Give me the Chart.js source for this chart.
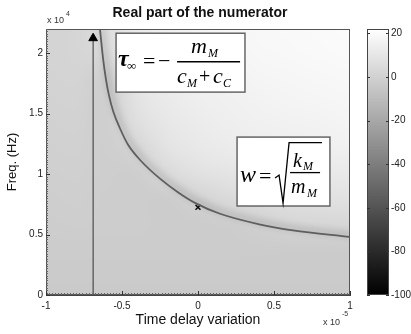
<!DOCTYPE html>
<html><head><meta charset="utf-8">
<script src="https://cdn.jsdelivr.net/npm/chart.js@4"></script>
<style>html,body{margin:0;padding:0;background:#fff;}#wrap{width:411px;height:334px;position:relative;}</style>
</head><body><div id="wrap"><canvas id="c" width="411" height="334"></canvas></div>
<script>
// ---- data ----
// heat map grid: time delay (x 1e-5) columns, frequency (x 1e4) rows, level in dB
const delayValues = [-1, -0.8, -0.6, -0.4, -0.2, 0, 0.2, 0.4, 0.6, 0.8, 1];
const freqValues = [2.2, 2.0, 1.8, 1.6, 1.4, 1.2, 1.0, 0.8, 0.6, 0.4, 0.2, 0];
const levelRows = [
  [1.5, 2, 6, 12, 15, 16.5, 17.5, 18.5, 19, 19.5, 20],
  [1.5, 2, 5, 11, 14, 16, 17, 18, 18.5, 19, 19.5],
  [1, 1.5, -1, 10, 13, 15, 16, 17, 17.5, 18, 18.5],
  [0.5, 1, -1.5, 8.5, 12, 14, 15, 16, 16.5, 17, 17.5],
  [0, 0.5, -1.5, 6, 10.5, 12.5, 14, 15, 15.5, 16, 16.5],
  [-0.5, 0, -1.5, 2, 8.5, 11, 12.5, 13.5, 14, 14.5, 15],
  [-1, -0.5, -1.5, -2, 4, 7.5, 9, 10, 10.5, 11, 11.5],
  [-1.5, -1, -2, -2, -2.5, 1, 4.5, 6, 7, 7.5, 8],
  [-2, -1.5, -2, -2, -2.5, -2.5, -2, 0, 2.5, 3, 3.5],
  [-2.5, -2.5, -2.5, -2.5, -2.5, -2.5, -2.5, -2.5, -2.5, -2.5, -2.5],
  [-3, -3, -3, -3, -3, -3, -3, -3, -3, -3, -3],
  [-3.5, -3.5, -3.5, -3.5, -3.5, -3.5, -3.5, -3.5, -3.5, -3.5, -3.5]
];
// dark ridge (zero of the real part)
const ridgeDelay = [-0.645, -0.625, -0.605, -0.586, -0.557, -0.513, -0.459, -0.37, -0.25, -0.13, -0.02, 0.145, 0.41, 0.625, 1.0];
const ridgeFreq  = [2.2, 1.96, 1.78, 1.653, 1.515, 1.377, 1.24, 1.102, 0.962, 0.848, 0.762, 0.672, 0.583, 0.534, 0.48];
// asymptote tau_inf and arrow
const asymptoteDelay = [-0.69, -0.69];
const asymptoteFreq = [0, 2.124];
// resonance marker
const markerDelay = [0];
const markerFreq = [0.725];
// ticks
const xTicks = [-1, -0.5, 0, 0.5, 1];
const xTickLabels = ['-1', '-0.5', '0', '0.5', '1'];
const yTicks = [0, 0.5, 1, 1.5, 2];
const yTickLabels = ['0', '0.5', '1', '1.5', '2'];
const cbTicks = [20, 0, -20, -40, -60, -80, -100];
const cbTickLabels = ['20', '0', '-20', '-40', '-60', '-80', '-100'];
const cbMin = -100, cbMax = 22;

// ---- styling / layout ----
const SANS = '"Liberation Sans", Arial, sans-serif';
const SERIF = '"Liberation Serif", "Times New Roman", serif';
const box1 = {x0: -0.539, x1: 0.309, y0: 2.165, y1: 1.678};
const box2 = {x0: 0.257, x1: 0.868, y0: 1.306, y1: 0.736};

function grayOf(v) {
  let g = (v - cbMin) / (cbMax - cbMin);
  g = Math.max(0, Math.min(1, g));
  return Math.round(g * 255);
}

const heatPlugin = {
  id: 'heat',
  beforeDatasetsDraw(chart) {
    const {ctx, chartArea: a, scales: {x, y}} = chart;
    const nC = delayValues.length, nR = freqValues.length;
    const off = document.createElement('canvas');
    off.width = nC; off.height = nR;
    const octx = off.getContext('2d');
    const img = octx.createImageData(nC, nR);
    for (let r = 0; r < nR; r++) for (let c = 0; c < nC; c++) {
      const g = grayOf(levelRows[r][c]);
      const k = (r * nC + c) * 4;
      img.data[k] = g; img.data[k + 1] = g; img.data[k + 2] = g; img.data[k + 3] = 255;
    }
    octx.putImageData(img, 0, 0);
    const dx = (delayValues[1] - delayValues[0]) / 2, dy = (freqValues[0] - freqValues[1]) / 2;
    const px0 = x.getPixelForValue(delayValues[0] - dx), px1 = x.getPixelForValue(delayValues[nC - 1] + dx);
    const py0 = y.getPixelForValue(freqValues[0] + dy), py1 = y.getPixelForValue(freqValues[nR - 1] - dy);
    ctx.save();
    ctx.beginPath(); ctx.rect(a.left, a.top, a.width, a.height); ctx.clip();
    ctx.imageSmoothingEnabled = true; ctx.imageSmoothingQuality = 'high';
    ctx.drawImage(off, px0, py0, px1 - px0, py1 - py0);
    ctx.restore();

    // colour bar
    const cb = chart.scales.cb;
    const bx = a.right + 17, bw = 22;
    const top = cb.getPixelForValue(cbMax), bot = cb.getPixelForValue(cbMin);
    const grad = ctx.createLinearGradient(0, top, 0, bot);
    grad.addColorStop(0, 'rgb(255,255,255)');
    grad.addColorStop(1, 'rgb(0,0,0)');
    ctx.save();
    ctx.fillStyle = grad;
    ctx.fillRect(bx, top, bw, bot - top);
    ctx.strokeStyle = '#444'; ctx.lineWidth = 1;
    ctx.strokeRect(bx + 0.5, top + 0.5, bw - 1, bot - top - 1);
    ctx.strokeStyle = '#333';
    cbTicks.forEach(v => {
      const py = Math.round(cb.getPixelForValue(v)) + 0.5;
      ctx.beginPath();
      ctx.moveTo(bx, py); ctx.lineTo(bx + 3, py);
      ctx.moveTo(bx + bw - 3, py); ctx.lineTo(bx + bw, py);
      ctx.stroke();
    });
    ctx.restore();
  },
  beforeDatasetDraw(chart, args) {
    if (args.index === 0) {
      const ctx = chart.ctx;
      ctx.save();
      ctx.shadowColor = 'rgba(0,0,0,0.4)';
      ctx.shadowBlur = 7;
      ctx.shadowOffsetX = 2;
      ctx.shadowOffsetY = -2;
    }
  },
  afterDatasetDraw(chart, args) {
    if (args.index === 0) chart.ctx.restore();
  },
  afterDatasetsDraw(chart) {
    const {ctx, chartArea: a, scales: {x, y}} = chart;
    ctx.save();
    // frame
    ctx.strokeStyle = '#555'; ctx.lineWidth = 1;
    ctx.strokeRect(Math.round(a.left) + 0.5, Math.round(a.top) + 0.5, Math.round(a.width) - 1, Math.round(a.height) - 1);
    // minor + major ticks (inside)
    ctx.strokeStyle = '#666';
    ctx.beginPath();
    for (let i = 0; i <= 100; i++) {
      const px = Math.round(x.getPixelForValue(-1 + i * 0.02)) + 0.5;
      ctx.moveTo(px, a.bottom); ctx.lineTo(px, a.bottom - 2);
    }
    for (let i = 0; i <= 110; i++) {
      const py = Math.round(y.getPixelForValue(i * 0.02)) + 0.5;
      ctx.moveTo(a.left, py); ctx.lineTo(a.left + 2, py);
    }
    ctx.stroke();
    ctx.strokeStyle = '#333';
    ctx.beginPath();
    xTicks.forEach(v => { const px = Math.round(x.getPixelForValue(v)) + 0.5; ctx.moveTo(px, a.bottom); ctx.lineTo(px, a.bottom - 4); });
    yTicks.forEach(v => { const py = Math.round(y.getPixelForValue(v)) + 0.5; ctx.moveTo(a.left, py); ctx.lineTo(a.left + 4, py); });
    ctx.stroke();

    // formula boxes
    function boxPx(b) {
      return {l: x.getPixelForValue(b.x0), r: x.getPixelForValue(b.x1), t: y.getPixelForValue(b.y0), b: y.getPixelForValue(b.y1)};
    }
    function txt(s, px, py, font) { ctx.font = font; ctx.fillText(s, px, py); }
    ctx.textBaseline = 'alphabetic'; ctx.textAlign = 'left'; ctx.fillStyle = '#000';
    const p1 = boxPx(box1);
    ctx.fillStyle = '#fff'; ctx.fillRect(p1.l, p1.t, p1.r - p1.l, p1.b - p1.t);
    ctx.strokeStyle = '#666'; ctx.lineWidth = 1.5; ctx.strokeRect(p1.l, p1.t, p1.r - p1.l, p1.b - p1.t);
    ctx.fillStyle = '#000';
    const L = p1.l, T = p1.t;
    txt('\u03C4', L + 2, T + 33, 'italic bold 24px ' + SERIF);
    txt('\u221E', L + 11, T + 37, '13px ' + SERIF);
    txt('=', L + 27, T + 35, '22px ' + SERIF);
    txt('\u2212', L + 42, T + 35, '22px ' + SERIF);
    ctx.lineWidth = 1.4; ctx.strokeStyle = '#000';
    ctx.beginPath(); ctx.moveTo(L + 61, T + 28.5); ctx.lineTo(L + 124, T + 28.5); ctx.stroke();
    txt('m', L + 75, T + 20, 'italic 22px ' + SERIF);
    txt('M', L + 92, T + 24, 'italic 12px ' + SERIF);
    txt('c', L + 61, T + 50, 'italic 22px ' + SERIF);
    txt('M', L + 71, T + 54, 'italic 12px ' + SERIF);
    txt('+', L + 83, T + 50, '20px ' + SERIF);
    txt('c', L + 97, T + 50, 'italic 22px ' + SERIF);
    txt('C', L + 107, T + 54, 'italic 12px ' + SERIF);

    const p2 = boxPx(box2);
    ctx.fillStyle = '#fff'; ctx.fillRect(p2.l, p2.t, p2.r - p2.l, p2.b - p2.t);
    ctx.strokeStyle = '#666'; ctx.lineWidth = 1.5; ctx.strokeRect(p2.l, p2.t, p2.r - p2.l, p2.b - p2.t);
    ctx.fillStyle = '#000';
    const L2 = p2.l, T2 = p2.t;
    txt('w', L2 + 3, T2 + 45, 'italic 24px ' + SERIF);
    txt('=', L2 + 22, T2 + 46, '22px ' + SERIF);
    ctx.strokeStyle = '#000'; ctx.lineWidth = 1.3;
    ctx.beginPath();
    ctx.moveTo(L2 + 38, T2 + 41); ctx.lineTo(L2 + 42, T2 + 38); ctx.lineTo(L2 + 46, T2 + 66);
    ctx.lineTo(L2 + 52, T2 + 5.5); ctx.lineTo(L2 + 85, T2 + 5.5);
    ctx.stroke();
    ctx.beginPath(); ctx.moveTo(L2 + 53, T2 + 35.5); ctx.lineTo(L2 + 83, T2 + 35.5); ctx.stroke();
    txt('k', L2 + 56, T2 + 30, 'italic 20px ' + SERIF);
    txt('M', L2 + 66, T2 + 33, 'italic 12px ' + SERIF);
    txt('m', L2 + 54, T2 + 56, 'italic 20px ' + SERIF);
    txt('M', L2 + 70, T2 + 60, 'italic 12px ' + SERIF);
    ctx.restore();
  },
  afterDraw(chart) {
    const {ctx, chartArea: a} = chart;
    ctx.save();
    ctx.fillStyle = '#111';
    ctx.textAlign = 'center'; ctx.textBaseline = 'middle';
    ctx.font = 'bold 14px ' + SANS;
    ctx.fillText('Real part of the numerator', (a.left + a.right) / 2 + 2, 13);
    ctx.textAlign = 'left';
    ctx.fillStyle = '#333';
    ctx.font = '9px ' + SANS;
    ctx.fillText('x 10', a.left + 1, 21);
    ctx.font = '7px ' + SANS;
    ctx.fillText('4', a.left + 20, 14);
    ctx.font = '9px ' + SANS;
    ctx.fillText('x 10', a.right - 27, 323);
    ctx.font = '7px ' + SANS;
    ctx.fillText('-5', a.right - 8, 314);
    ctx.restore();
  }
};

const tickFont = {family: SANS, size: 10};
const chart = new Chart(document.getElementById('c'), {
  type: 'scatter',
  data: {
    datasets: [
      {
        data: ridgeDelay.map((d, i) => ({x: d, y: ridgeFreq[i]})),
        showLine: true, borderColor: '#5e5e5e', borderWidth: 1.8, pointRadius: 0,
        cubicInterpolationMode: 'monotone'
      },
      {
        data: asymptoteDelay.map((d, i) => ({x: d, y: asymptoteFreq[i]})),
        showLine: true, borderColor: '#333', borderWidth: 1,
        pointRadius: [0, 5], pointStyle: 'triangle', pointBackgroundColor: '#000', pointBorderColor: '#000', pointBorderWidth: 1
      },
      {
        data: markerDelay.map((d, i) => ({x: d, y: markerFreq[i]})),
        showLine: false, pointStyle: 'crossRot', pointRadius: 3.5, pointBorderColor: '#111', pointBorderWidth: 1.5
      }
    ]
  },
  options: {
    responsive: false, animation: false,
    layout: {padding: {top: 29, left: 0, right: 0, bottom: 0}},
    plugins: {legend: {display: false}, tooltip: {enabled: false}, title: {display: false}},
    scales: {
      x: {
        type: 'linear', min: -1, max: 1, position: 'bottom',
        afterBuildTicks: s => { s.ticks = xTicks.map(v => ({value: v})); },
        afterFit: s => { s.height = 39; s.paddingLeft = 0; s.paddingRight = 0; },
        ticks: {callback: (v, i) => xTickLabels[i], font: tickFont, color: '#222', padding: 5, maxRotation: 0, autoSkip: false},
        grid: {display: false, drawTicks: false},
        border: {display: true, color: '#444'},
        title: {display: true, text: 'Time delay variation', font: {family: SANS, size: 14}, color: '#111', padding: {top: 0, bottom: 5}}
      },
      y: {
        type: 'linear', min: 0, max: 2.2, position: 'left',
        afterBuildTicks: s => { s.ticks = yTicks.map(v => ({value: v})); },
        afterFit: s => { s.width = 46; s.paddingTop = 0; s.paddingBottom = 0; },
        ticks: {callback: (v, i) => yTickLabels[i], font: tickFont, color: '#222', padding: 3, autoSkip: false},
        grid: {display: false, drawTicks: false},
        border: {display: true, color: '#444'},
        title: {display: true, text: 'Freq. (Hz)', font: {family: SANS, size: 13}, color: '#111', padding: {top: 5, bottom: 0}}
      },
      cb: {
        type: 'linear', min: cbMin, max: cbMax, position: 'right',
        afterBuildTicks: s => { s.ticks = cbTicks.map(v => ({value: v})); },
        afterFit: s => { s.width = 61; s.paddingTop = 0; s.paddingBottom = 0; },
        ticks: {callback: (v, i) => cbTickLabels[i], font: tickFont, color: '#222', padding: 41, autoSkip: false},
        grid: {display: false, drawTicks: false},
        border: {display: false}
      }
    }
  },
  plugins: [heatPlugin]
});
</script>
</body></html>
